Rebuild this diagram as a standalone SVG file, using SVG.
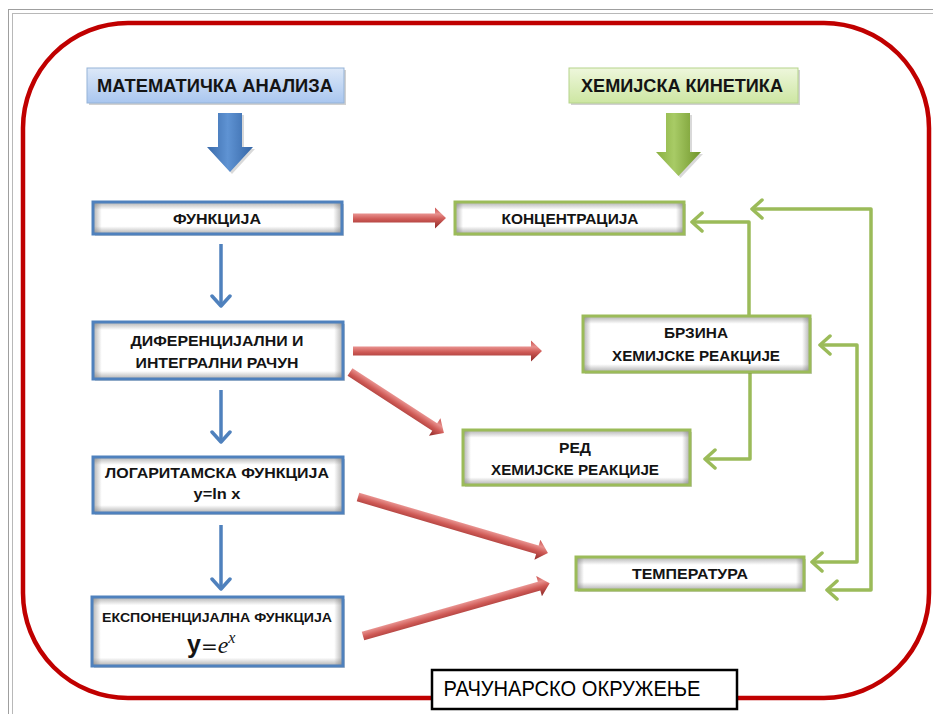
<svg xmlns="http://www.w3.org/2000/svg" width="933" height="714" viewBox="0 0 933 714">
<defs>
<style>
.t{font-family:"Liberation Sans",Arial,sans-serif;font-weight:700;fill:#141414;text-anchor:middle}
.hd{font-size:19px}
.nd{font-size:15px}
.nodeB{fill:none;stroke:#4f81bd;stroke-width:3}
.nodeG{fill:none;stroke:#9bbb59;stroke-width:3}
.bg{fill:#fff}
.hs{fill:url(#hG)}
.v1{fill:url(#vG1)}
.v2{fill:url(#vG2)}
.v3{fill:url(#vG3)}
.sh{fill:#000;opacity:0.18}
.gc{fill:none;stroke:#9bbb59;stroke-width:3.5;stroke-linejoin:round}
.bc{fill:none;stroke:#4f81bd;stroke-width:3.5}
.ra{fill:url(#redG)}
</style>
<linearGradient id="hG" x1="0" y1="0" x2="1" y2="0">
<stop offset="0" stop-color="#6e6e6e" stop-opacity="0.55"/>
<stop offset="0.035" stop-color="#6e6e6e" stop-opacity="0"/>
<stop offset="0.965" stop-color="#6e6e6e" stop-opacity="0"/>
<stop offset="1" stop-color="#6e6e6e" stop-opacity="0.55"/>
</linearGradient>
<linearGradient id="vG1" x1="0" y1="0" x2="0" y2="1">
<stop offset="0" stop-color="#6e6e6e" stop-opacity="0.55"/>
<stop offset="0.24" stop-color="#6e6e6e" stop-opacity="0"/>
<stop offset="0.76" stop-color="#6e6e6e" stop-opacity="0"/>
<stop offset="1" stop-color="#6e6e6e" stop-opacity="0.55"/>
</linearGradient>
<linearGradient id="vG2" x1="0" y1="0" x2="0" y2="1">
<stop offset="0" stop-color="#6e6e6e" stop-opacity="0.55"/>
<stop offset="0.14" stop-color="#6e6e6e" stop-opacity="0"/>
<stop offset="0.86" stop-color="#6e6e6e" stop-opacity="0"/>
<stop offset="1" stop-color="#6e6e6e" stop-opacity="0.55"/>
</linearGradient>
<linearGradient id="vG3" x1="0" y1="0" x2="0" y2="1">
<stop offset="0" stop-color="#6e6e6e" stop-opacity="0.55"/>
<stop offset="0.12" stop-color="#6e6e6e" stop-opacity="0"/>
<stop offset="0.88" stop-color="#6e6e6e" stop-opacity="0"/>
<stop offset="1" stop-color="#6e6e6e" stop-opacity="0.55"/>
</linearGradient>
<linearGradient id="redG" x1="0" y1="0" x2="0" y2="1">
<stop offset="0" stop-color="#c9504d"/>
<stop offset="0.3" stop-color="#e8918e"/>
<stop offset="0.55" stop-color="#cf5a56"/>
<stop offset="1" stop-color="#8b2826"/>
</linearGradient>
<linearGradient id="hdB" x1="0" y1="0" x2="0" y2="1">
<stop offset="0" stop-color="#dce8f8"/>
<stop offset="1" stop-color="#a9c6ef"/>
</linearGradient>
<linearGradient id="hdG" x1="0" y1="0" x2="0" y2="1">
<stop offset="0" stop-color="#eef7dc"/>
<stop offset="1" stop-color="#cde6a2"/>
</linearGradient>
<linearGradient id="bigB" x1="0" y1="0" x2="1" y2="0">
<stop offset="0" stop-color="#3a6bab"/>
<stop offset="0.45" stop-color="#5f93d3"/>
<stop offset="1" stop-color="#3566a6"/>
</linearGradient>
<linearGradient id="bigG" x1="0" y1="0" x2="1" y2="0">
<stop offset="0" stop-color="#8ab040"/>
<stop offset="0.4" stop-color="#a8cb66"/>
<stop offset="1" stop-color="#6f942a"/>
</linearGradient>
<marker id="gArr" viewBox="0 0 16 22" refX="13" refY="11" markerWidth="16" markerHeight="22" orient="auto-start-reverse" markerUnits="userSpaceOnUse">
<path d="M3,2 L13,11 L3,20" fill="none" stroke="#9bbb59" stroke-width="3.5" stroke-linecap="round" stroke-linejoin="round"/>
</marker>
<marker id="bArr" viewBox="0 0 16 22" refX="13" refY="11" markerWidth="16" markerHeight="22" orient="auto" markerUnits="userSpaceOnUse">
<path d="M3,2 L13,11 L3,20" fill="none" stroke="#4f81bd" stroke-width="3.5" stroke-linecap="round" stroke-linejoin="round"/>
</marker>
</defs>

<rect x="0" y="0" width="933" height="714" fill="#fff"/>
<g id="frame">
<rect x="8.5" y="9.5" width="940" height="720" fill="none" stroke="#9f9f9f" stroke-width="1"/>
<rect x="12.5" y="13.5" width="940" height="720" fill="none" stroke="#b8b8b8" stroke-width="1"/>
<rect x="23" y="23" width="906" height="675" rx="105" ry="105" fill="none" stroke="#c00000" stroke-width="4.5"/>
</g>

<g id="connectors">
<polygon points="220,115 244,115 244,149 255,149 232,174 209,149 220,149" fill="#000" opacity="0.15"/>
<polygon points="218,113 242,113 242,147 253,147 230,172 207,147 218,147" fill="url(#bigB)"/>
<polygon points="668,115 692,115 692,154 703,154 680.5,178 658,154 668,154" fill="#000" opacity="0.15"/>
<polygon points="666,113 690,113 690,152 701,152 678.5,176 656,152 666,152" fill="url(#bigG)"/>
<path class="bc" d="M221,244 V306" marker-end="url(#bArr)"/>
<path class="bc" d="M221,390 V442" marker-end="url(#bArr)"/>
<path class="bc" d="M221,525 V589" marker-end="url(#bArr)"/>
<path class="gc" d="M749,316 V222 H692" marker-end="url(#gArr)"/>
<path class="gc" d="M750,372 V459 H705" marker-end="url(#gArr)"/>
<path class="gc" d="M752,209 H871 V590 H827" marker-start="url(#gArr)" marker-end="url(#gArr)"/>
<path class="gc" d="M820,345 H857 V562 H812" marker-start="url(#gArr)" marker-end="url(#gArr)"/>
<path class="ra" transform="translate(353,218)" d="M0,-4.5 H82 V-10.5 L93,0 L82,10.5 V4.5 H0 Z"/>
<path class="ra" transform="translate(353,351)" d="M0,-4.5 H178 V-10.5 L189,0 L178,10.5 V4.5 H0 Z"/>
<path class="ra" transform="translate(350,372) rotate(33)" d="M0,-4.5 H101 V-10.5 L112,0 L101,10.5 V4.5 H0 Z"/>
<path class="ra" transform="translate(358,497) rotate(16.4)" d="M0,-4.5 H187 V-10.5 L198,0 L187,10.5 V4.5 H0 Z"/>
<path class="ra" transform="translate(363,636) rotate(-15.8)" d="M0,-4.5 H183 V-10.5 L194,0 L183,10.5 V4.5 H0 Z"/>
</g>

<g id="hdr-mat">
<rect class="sh" x="89" y="70" width="257" height="35"/>
<rect x="87" y="68" width="257" height="35" fill="url(#hdB)" stroke="#95b3d7" stroke-width="1"/>
<text class="t hd" x="215" y="92" textLength="236" lengthAdjust="spacingAndGlyphs">МАТЕМАТИЧКА АНАЛИЗА</text>
</g>
<g id="hdr-hem">
<rect class="sh" x="571" y="70" width="229" height="35"/>
<rect x="569" y="68" width="229" height="35" fill="url(#hdG)" stroke="#b5d48b" stroke-width="1"/>
<text class="t hd" x="682" y="92" textLength="202" lengthAdjust="spacingAndGlyphs">ХЕМИЈСКА КИНЕТИКА</text>
</g>

<g id="n-funkcija">
<rect class="sh" x="95" y="204" width="249" height="32"/>
<rect class="bg" x="93" y="202" width="249" height="32"/>
<rect class="hs" x="93" y="202" width="249" height="32"/>
<rect class="v1" x="93" y="202" width="249" height="32"/>
<rect class="nodeB" x="93" y="202" width="249" height="32"/>
<text class="t nd" x="217" y="224" textLength="88" lengthAdjust="spacingAndGlyphs">ФУНКЦИЈА</text>
</g>
<g id="n-dif">
<rect class="sh" x="95" y="324" width="250" height="57"/>
<rect class="bg" x="93" y="322" width="250" height="57"/>
<rect class="hs" x="93" y="322" width="250" height="57"/>
<rect class="v2" x="93" y="322" width="250" height="57"/>
<rect class="nodeB" x="93" y="322" width="250" height="57"/>
<text class="t nd" x="217" y="346" textLength="173" lengthAdjust="spacingAndGlyphs">ДИФЕРЕНЦИЈАЛНИ И</text>
<text class="t nd" x="217" y="368" textLength="163" lengthAdjust="spacingAndGlyphs">ИНТЕГРАЛНИ РАЧУН</text>
</g>
<g id="n-log">
<rect class="sh" x="95" y="459" width="250" height="56"/>
<rect class="bg" x="93" y="457" width="250" height="56"/>
<rect class="hs" x="93" y="457" width="250" height="56"/>
<rect class="v2" x="93" y="457" width="250" height="56"/>
<rect class="nodeB" x="93" y="457" width="250" height="56"/>
<text class="t nd" x="217" y="478" textLength="224" lengthAdjust="spacingAndGlyphs">ЛОГАРИТАМСКА ФУНКЦИЈА</text>
<text class="t nd" x="217" y="499" textLength="47" lengthAdjust="spacingAndGlyphs">y=ln x</text>
</g>
<g id="n-exp">
<rect class="sh" x="94" y="599" width="251" height="69"/>
<rect class="bg" x="92" y="597" width="251" height="69"/>
<rect class="hs" x="92" y="597" width="251" height="69"/>
<rect class="v3" x="92" y="597" width="251" height="69"/>
<rect class="nodeB" x="92" y="597" width="251" height="69"/>
<text class="t" style="font-size:13px" x="217" y="622" textLength="230" lengthAdjust="spacingAndGlyphs">ЕКСПОНЕНЦИЈАЛНА ФУНКЦИЈА</text>
<text x="187" y="653" style="fill:#141414;font-size:24px"><tspan style="font-family:'Liberation Sans',Arial,sans-serif;font-weight:700;font-size:25px">y</tspan><tspan style="font-family:'DejaVu Sans',sans-serif;font-size:20px">=</tspan><tspan style="font-family:'Liberation Serif',serif;font-style:italic">e</tspan><tspan dy="-10" style="font-family:'Liberation Serif',serif;font-style:italic;font-size:16px">x</tspan></text>
</g>

<g id="n-konc">
<rect class="sh" x="457" y="204" width="229" height="32"/>
<rect class="bg" x="455" y="202" width="229" height="32"/>
<rect class="hs" x="455" y="202" width="229" height="32"/>
<rect class="v1" x="455" y="202" width="229" height="32"/>
<rect class="nodeG" x="455" y="202" width="229" height="32"/>
<text class="t nd" x="570" y="224" textLength="137" lengthAdjust="spacingAndGlyphs">КОНЦЕНТРАЦИЈА</text>
</g>
<g id="n-brzina">
<rect class="sh" x="585" y="318" width="227" height="56"/>
<rect class="bg" x="583" y="316" width="227" height="56"/>
<rect class="hs" x="583" y="316" width="227" height="56"/>
<rect class="v2" x="583" y="316" width="227" height="56"/>
<rect class="nodeG" x="583" y="316" width="227" height="56"/>
<text class="t nd" x="696" y="338" textLength="64" lengthAdjust="spacingAndGlyphs">БРЗИНА</text>
<text class="t nd" x="696" y="361" textLength="168" lengthAdjust="spacingAndGlyphs">ХЕМИЈСКЕ РЕАКЦИЈЕ</text>
</g>
<g id="n-red">
<rect class="sh" x="465" y="432" width="227" height="55"/>
<rect class="bg" x="463" y="430" width="227" height="55"/>
<rect class="hs" x="463" y="430" width="227" height="55"/>
<rect class="v2" x="463" y="430" width="227" height="55"/>
<rect class="nodeG" x="463" y="430" width="227" height="55"/>
<text class="t nd" x="575" y="453" textLength="32" lengthAdjust="spacingAndGlyphs">РЕД</text>
<text class="t nd" x="575" y="475" textLength="168" lengthAdjust="spacingAndGlyphs">ХЕМИЈСКЕ РЕАКЦИЈЕ</text>
</g>
<g id="n-temp">
<rect class="sh" x="578" y="559" width="228" height="33"/>
<rect class="bg" x="576" y="557" width="228" height="33"/>
<rect class="hs" x="576" y="557" width="228" height="33"/>
<rect class="v1" x="576" y="557" width="228" height="33"/>
<rect class="nodeG" x="576" y="557" width="228" height="33"/>
<text class="t nd" x="690" y="579" textLength="116" lengthAdjust="spacingAndGlyphs">ТЕМПЕРАТУРА</text>
</g>

<g id="label-env">
<rect x="432" y="670" width="305" height="39" fill="#fff" stroke="#000" stroke-width="2.5"/>
<text x="572" y="696" style="font-family:'Liberation Sans',Arial,sans-serif;font-size:22px;fill:#000;text-anchor:middle" textLength="257" lengthAdjust="spacingAndGlyphs">РАЧУНАРСКО ОКРУЖЕЊЕ</text>
</g>
</svg>
